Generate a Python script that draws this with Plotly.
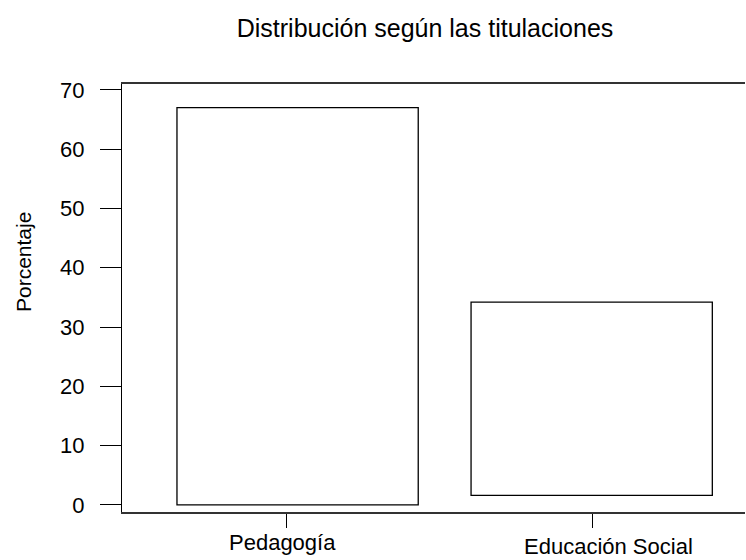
import plotly.graph_objects as go

categories = ["Pedagogía", "Educación Social"]
values = [67.0, 32.6]
bases = [0.0, 1.6]
y_ticks = [0, 10, 20, 30, 40, 50, 60, 70]

fig = go.Figure()
fig.add_trace(go.Bar(
    x=[0, 1],
    y=values,
    base=bases,
    width=0.79,
    offset=[-0.359, -0.396],
    marker=dict(color="white", line=dict(color="black", width=1.3)),
    showlegend=False,
    hoverinfo="skip",
))

L, R, T, B = 122, 745, 84, 512

def py(p):
    return (B - p) / (B - T)

# category labels placed under their ticks (with the small offsets seen in the reference)
label_dx = [-4, 16]
label_cy = [542, 546]
annotations = [dict(
    text="Porcentaje",
    x=(23 - L) / (R - L), y=py(262),
    xref="paper", yref="paper",
    showarrow=False, textangle=-90, font=dict(size=21, color="black"),
    xanchor="center", yanchor="middle",
)]
for i, cat in enumerate(categories):
    annotations.append(dict(
        text=cat, x=i, y=py(label_cy[i]), xref="x", yref="paper",
        xshift=label_dx[i], showarrow=False,
        font=dict(size=22, color="black"),
        xanchor="center", yanchor="middle",
    ))

fig.update_layout(
    width=746, height=560,
    margin=dict(l=L, r=746 - R, t=T, b=560 - B),
    paper_bgcolor="white", plot_bgcolor="white",
    font=dict(family="Liberation Sans, Arial, sans-serif", color="black"),
    title=dict(text="Distribución según las titulaciones", x=425 / 746, xanchor="center",
               y=1 - 28 / 560, yanchor="middle", font=dict(size=25, color="black")),
    xaxis=dict(
        type="linear", range=[-0.539, 1.501],
        tickmode="array", tickvals=[0, 1], ticktext=categories,
        showticklabels=False,
        ticks="outside", ticklen=14, tickwidth=1, tickcolor="black",
        showline=True, linecolor="#333", linewidth=2, mirror=True,
        showgrid=False, zeroline=False,
    ),
    yaxis=dict(
        range=[-1.2, 71.0],
        tickmode="array", tickvals=y_ticks,
        ticks="outside", ticklen=21, tickwidth=1.2, tickcolor="black",
        showline=True, linecolor="black", linewidth=1.3,
        showgrid=False, zeroline=False,
        tickfont=dict(size=22, color="black"),
        ticklabelstandoff=11,
    ),
    annotations=annotations,
)

fig.write_html(
    "out.html",
    config={"displayModeBar": False},
    post_script="document.body.style.margin='0';document.body.style.overflow='hidden';",
)
